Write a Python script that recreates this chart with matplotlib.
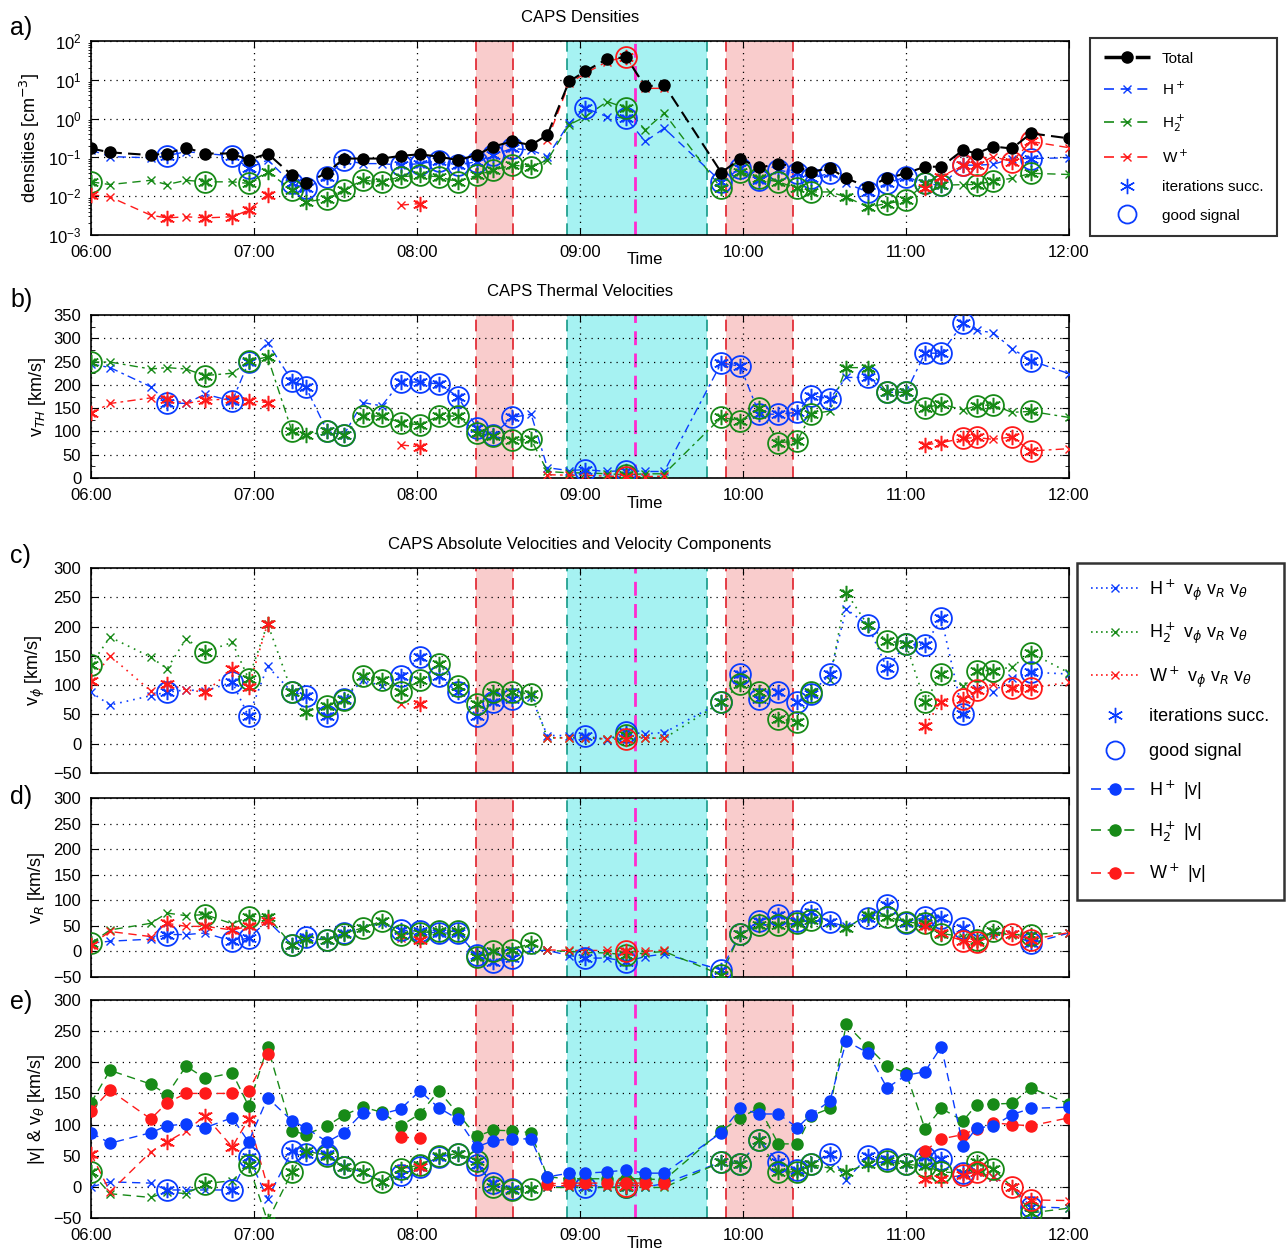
import numpy as np
import matplotlib.pyplot as plt
from matplotlib.lines import Line2D
from matplotlib.ticker import MultipleLocator

plt.rcParams['font.family'] = ['Liberation Sans Narrow', 'Liberation Sans', 'DejaVu Sans']

nan = np.nan

# sample times, minutes after 06:00
t_min = [0, 7, 22, 28, 35, 42, 52, 58, 65, 74, 79, 87, 93, 100, 107, 114, 121, 128, 135, 142,
         148, 155, 162, 168, 176, 182, 190, 197, 204, 211, 232, 239, 246, 253, 260, 265, 272, 278, 286, 293,
         300, 307, 313, 321, 326, 332, 339, 346, 360]
hour_ticks = [0, 60, 120, 180, 240, 300, 360]
hour_labels = ['06:00', '07:00', '08:00', '09:00', '10:00', '11:00', '12:00']

# fit quality per sample: 0 = plain, 1 = iterations succeeded, 2 = good signal
q_h = [0, 0, 0, 2, 0, 0, 2, 2, 0, 2, 2, 2, 2, 0, 0, 2, 2, 2, 2, 2,
       2, 2, 0, 0, 0, 2, 0, 2, 0, 0, 2, 2, 2, 2, 2, 2, 2, 0, 2, 2,
       2, 2, 2, 2, 0, 0, 0, 2, 0]
q_h2 = [2, 0, 0, 0, 0, 2, 0, 2, 1, 2, 1, 2, 2, 2, 2, 2, 2, 2, 2, 2,
        2, 2, 2, 0, 0, 0, 0, 2, 0, 0, 2, 2, 2, 2, 2, 2, 0, 1, 1, 2,
        2, 2, 2, 0, 2, 2, 0, 2, 0]
q_w = [1, 0, 0, 1, 0, 1, 1, 1, 1, 0, 0, 0, 0, 0, 0, 0, 1, 0, 0, 0,
       0, 0, 0, 0, 0, 0, 0, 2, 0, 0, 0, 0, 0, 0, 0, 0, 0, 0, 0, 0,
       0, 1, 1, 2, 2, 0, 2, 2, 0]

# a) densities, log10 [cm^-3]
dens_total_log = [-0.77, -0.87, -0.94, -0.90, -0.75, -0.90, -0.90, -1.07, -0.90, -1.46,
                  -1.67, -1.39, -1.03, -1.03, -1.03, -0.96, -0.92, -0.98, -1.07, -0.94,
                  -0.72, -0.59, -0.68, -0.42, 0.96, 1.22, 1.54, 1.58, 0.83, 0.87,
                  -1.39, -1.04, -1.26, -1.17, -1.24, -1.37, -1.28, -1.54, -1.76, -1.54,
                  -1.41, -1.24, -1.24, -0.81, -0.90, -0.72, -0.77, -0.38, -0.51]
dens_h_log = [-0.81, -0.98, -1.01, -0.96, -0.85, -0.90, -0.96, -1.28, -1.07, -1.67,
              -1.80, -1.50, -1.07, -1.16, -1.16, -1.20, -1.16, -1.09, -1.20, -1.11,
              -0.94, -0.77, -0.81, -0.98, -0.12, 0.27, 0.05, 0.01, -0.59, -0.25,
              -1.63, -1.28, -1.59, -1.33, -1.41, -1.54, -1.41, -1.67, -1.89, -1.67,
              -1.50, -1.67, -1.72, -1.20, -1.20, -1.18, -1.03, -1.03, -1.01]
dens_h2_log = [-1.63, -1.70, -1.59, -1.70, -1.59, -1.63, -1.63, -1.67, -1.37, -1.84,
               -2.15, -2.06, -1.84, -1.59, -1.63, -1.50, -1.46, -1.50, -1.63, -1.46,
               -1.33, -1.20, -1.24, -1.07, -0.16, 0.05, 0.44, 0.27, -0.29, 0.14,
               -1.80, -1.37, -1.54, -1.63, -1.80, -1.89, -1.89, -2.02, -2.28, -2.19,
               -2.10, -1.67, -1.72, -1.70, -1.70, -1.61, -1.54, -1.41, -1.44]
dens_w_log = [-1.96, -2.02, -2.49, -2.56, -2.53, -2.56, -2.53, -2.36, -1.96, nan,
              nan, nan, nan, nan, nan, -2.23, -2.19, nan, nan, nan,
              nan, nan, nan, -0.55, 0.91, 1.17, 1.47, 1.60, 0.78, 0.78,
              nan, nan, nan, nan, nan, nan, nan, nan, nan, nan,
              nan, -1.80, -1.50, -1.20, -1.20, -0.98, -1.11, -0.59, -0.75]

# b) thermal velocities [km/s]
vth_h = [245, 237, 196, 162, 160, 180, 165, 249, 290, 209, 196, 100, 92, 162, 155, 206, 206, 202, 175, 108,
         92, 130, 137, 22, 16, 18, 14, 16, 14, 14, 247, 240, 137, 137, 141, 177, 170, 216, 216, 184,
         184, 268, 268, 332, 317, 312, 278, 252, 224]
vth_h2 = [249, 249, 234, 237, 234, 220, 225, 251, 260, 100, 92, 100, 92, 133, 133, 119, 114, 133, 133, 97,
          90, 81, 83, 14, 11, 11, 9, 7, 9, 9, 130, 123, 150, 76, 79, 137, 144, 237, 237, 184,
          184, 150, 159, 146, 155, 157, 141, 143, 130]
vth_w = [139, 160, 172, 170, 160, 167, 170, 166, 162, nan, nan, nan, nan, nan, nan, 71, 67, nan, nan, nan,
         nan, nan, nan, 7, 6, 6, 4, 3, 3, 4, nan, nan, nan, nan, nan, nan, nan, nan, nan, nan,
         nan, 71, 76, 85, 87, 83, 88, 58, 63]

# c) v_phi [km/s]
vphi_h = [88, 66, 82, 88, 92, 90, 105, 47, 132, 88, 82, 47, 76, 108, 99, 116, 148, 116, 88, 47,
          71, 77, 80, 14, 14, 13, 7, 20, 17, 19, 71, 119, 77, 88, 71, 85, 119, 230, 202, 129,
          170, 168, 214, 51, 94, 88, 112, 122, 119]
vphi_h2 = [135, 182, 148, 128, 179, 157, 173, 111, 205, 88, 55, 65, 74, 116, 108, 88, 108, 136, 99, 68,
           89, 88, 85, 10, 10, 10, 8, 15, 10, 9, 71, 102, 88, 43, 37, 88, 108, 258, 202, 176,
           170, 71, 119, 99, 125, 125, 131, 155, 121]
vphi_w = [107, 150, 90, 102, 92, 88, 127, 97, 205, nan, nan, nan, nan, nan, nan, 68, 68, nan, nan, nan,
          nan, nan, nan, 10, 10, 10, 8, 8, 10, 9, nan, nan, nan, nan, nan, nan, nan, nan, nan, nan,
          nan, 31, 71, 77, 91, 102, 95, 95, 105]

# d) v_R [km/s]
vr_h = [16, 20, 24, 33, 33, 36, 20, 26, 60, 13, 29, 23, 36, 46, 55, 42, 39, 36, 36, -7,
        -20, -13, 2, 2, -8, -13, -13, -20, -10, -5, -36, 35, 59, 72, 59, 78, 57, 49, 65, 91,
        55, 68, 65, 46, 29, 36, 35, 16, 36]
vr_h2 = [16, 42, 55, 75, 70, 72, 54, 68, 68, 13, 24, 23, 35, 46, 59, 33, 37, 39, 39, -10,
         0, 3, 16, 2, 0, -2, -3, -7, -3, 0, -46, 35, 52, 52, 55, 62, 55, 46, 72, 68,
         57, 55, 35, 29, 23, 39, 33, 33, 37]
vr_w = [13, 39, 29, 55, 49, 49, 42, 49, 59, nan, nan, nan, nan, nan, nan, 26, 23, nan, nan, nan,
        nan, nan, nan, 3, 2, 2, 2, 0, 0, 3, nan, nan, nan, nan, nan, nan, nan, nan, nan, nan,
        nan, 49, 36, 20, 18, 30, 35, 23, 37]

# e) |v| and v_theta [km/s]
vabs_h = [87, 70, 87, 98, 101, 95, 111, 72, 143, 106, 95, 72, 87, 119, 117, 125, 154, 127, 109, 64,
          74, 77, 77, 16, 22, 22, 24, 27, 22, 22, 87, 126, 117, 117, 95, 116, 138, 234, 215, 159,
          179, 185, 225, 66, 95, 97, 116, 126, 128]
vabs_h2 = [135, 187, 165, 148, 194, 174, 183, 130, 225, 90, 84, 98, 115, 128, 120, 98, 117, 154, 118, 81,
           91, 90, 87, 16, 13, 13, 13, 13, 13, 11, 90, 111, 127, 69, 69, 114, 126, 261, 225, 194,
           183, 93, 126, 106, 132, 133, 134, 159, 133]
vabs_w = [122, 155, 109, 135, 150, 150, 150, 154, 213, nan, nan, nan, nan, nan, nan, 80, 78, nan, nan, nan,
          nan, nan, nan, 5, 6, 6, 6, 6, 6, 6, nan, nan, nan, nan, nan, nan, nan, nan, nan, nan,
          nan, 58, 77, 84, 93, 103, 100, 98, 111]
vth_h_theta = [0, 8, 6, -5, -5, -5, -5, 48, -19, 58, 53, 53, 32, 24, 8, 19, 32, 48, 53, 35,
               6, -3, -3, 0, 0, 0, 0, -1, 0, 5, 40, 37, 75, 40, 27, 37, 53, 11, 49, 45,
               37, 48, 45, 22, 24, 16, 0, -32, -34]
vth_h2_theta = [24, -11, -17, -8, -11, 5, 10, 35, -55, 24, 58, 50, 32, 24, 8, 29, 35, 50, 53, 42,
                0, -5, -3, -1, -1, -1, -1, -1, -1, -1, 40, 37, 75, 24, 24, 36, 30, 24, 37, 41,
                36, 34, 24, 22, 40, 29, 0, -42, -34]
vth_w_theta = [53, -8, 56, 72, 90, 114, 64, 109, 0, nan, nan, nan, nan, nan, nan, 30, 32, nan, nan, nan,
               nan, nan, nan, 2, 2, 2, 2, 2, 2, 2, nan, nan, nan, nan, nan, nan, nan, nan, nan, nan,
               nan, 13, 13, 19, 24, 16, 0, -21, -22]

# event intervals, minutes after 06:00
pink_spans = [(141.7, 155.3), (233.6, 258.4)]
cyan_span = (175.1, 226.7)
magenta_t = 200.3

BLUE, GREEN, RED = '#0a3cff', '#178a17', '#ff1a1a'
PINK, CYAN = '#f9cccc', '#a6f2f2'

t = np.array(t_min, float)

W, H = 1286, 1252
fig = plt.figure(figsize=(W / 100, H / 100), dpi=100)


def box(l, top, r, b):
    return [l / W, 1 - b / H, (r - l) / W, (b - top) / H]


def frame(ax, xlabels=True):
    ax.set_xlim(0, 360)
    ax.set_xticks(hour_ticks)
    ax.set_xticklabels(hour_labels if xlabels else [])
    ax.tick_params(direction='in', top=True, right=True, labelsize=12, length=5, pad=7)
    ax.grid(True, ls=(0, (1, 4)), color='k', lw=0.9)
    for s in ax.spines.values():
        s.set_linewidth(1.2)
    for lo, hi in pink_spans:
        ax.axvspan(lo, hi, color=PINK, lw=0, zorder=0)
        for xv in (lo, hi):
            ax.axvline(xv, color='#e0202a', lw=1.2, dashes=(7, 4), zorder=1)
    ax.axvspan(*cyan_span, color=CYAN, lw=0, zorder=0)
    for xv in cyan_span:
        ax.axvline(xv, color='#149a88', lw=1.2, dashes=(7, 4), zorder=1)
    ax.axvline(magenta_t, color='#ff2ad0', lw=2, dashes=(5, 3), zorder=1)


def series(ax, y, color, q, dashes, line_dotted=False):
    y = np.asarray(y, float)
    q = np.asarray(q)
    if line_dotted:
        ax.plot(t, y, color=color, lw=1.2, ls=(0, (1, 3)), marker='x', ms=6, mew=1, zorder=3)
    else:
        ax.plot(t, y, color=color, lw=1, dashes=dashes, marker='x', ms=6, mew=1, zorder=3)
    m1 = q >= 1
    ax.plot(t[m1], y[m1], ls='none', marker=(6, 2, 0), ms=11, mew=1.1, color=color, zorder=4)
    m2 = q == 2
    ax.plot(t[m2], y[m2], ls='none', marker='o', ms=15, mfc='none', mec=color, mew=1.3, zorder=4)


# a) densities
ax_a = fig.add_axes(box(91, 41, 1069, 235))
frame(ax_a)
ax_a.set_yscale('log')
ax_a.set_ylim(1e-3, 1e2)
ax_a.plot(t, 10 ** np.array(dens_total_log), color='k', lw=1.5, dashes=(6, 3), marker='o', ms=8, zorder=5)
for y, c, q in [(dens_h_log, BLUE, q_h), (dens_h2_log, GREEN, q_h2), (dens_w_log, RED, q_w)]:
    series(ax_a, 10 ** np.array(y, float), c, q, (6, 4))
ax_a.set_ylabel('densities [cm$^{-3}$]', fontsize=13)
ax_a.set_title('CAPS Densities', fontsize=12, pad=14)

# b) thermal velocities
ax_b = fig.add_axes(box(91, 315, 1069, 478))
frame(ax_b)
ax_b.set_ylim(0, 350)
ax_b.yaxis.set_major_locator(MultipleLocator(50))
ax_b.yaxis.set_minor_locator(MultipleLocator(25))
ax_b.tick_params(which='minor', direction='in', right=True, length=3)
for y, c, q in [(vth_h, BLUE, q_h), (vth_h2, GREEN, q_h2), (vth_w, RED, q_w)]:
    series(ax_b, y, c, q, (6, 3, 2, 3))
ax_b.set_ylabel('v$_{TH}$ [km/s]', fontsize=13)
ax_b.set_title('CAPS Thermal Velocities', fontsize=12, pad=14)

# c) v_phi
ax_c = fig.add_axes(box(91, 568, 1069, 773))
frame(ax_c, xlabels=False)
ax_c.set_ylim(-50, 300)
ax_c.yaxis.set_major_locator(MultipleLocator(50))
for y, c, q in [(vphi_h, BLUE, q_h), (vphi_h2, GREEN, q_h2), (vphi_w, RED, q_w)]:
    series(ax_c, y, c, q, None, line_dotted=True)
ax_c.set_ylabel(r'v$_\phi$ [km/s]', fontsize=13)
ax_c.set_title('CAPS Absolute Velocities and Velocity Components', fontsize=12, pad=14)

# d) v_R
ax_d = fig.add_axes(box(91, 798, 1069, 977))
frame(ax_d, xlabels=False)
ax_d.set_ylim(-50, 300)
ax_d.yaxis.set_major_locator(MultipleLocator(50))
for y, c, q in [(vr_h, BLUE, q_h), (vr_h2, GREEN, q_h2), (vr_w, RED, q_w)]:
    series(ax_d, y, c, q, (6, 4))
ax_d.set_ylabel('v$_R$ [km/s]', fontsize=13)

# e) |v| and v_theta
ax_e = fig.add_axes(box(91, 1000, 1069, 1218))
frame(ax_e)
ax_e.set_ylim(-50, 300)
ax_e.yaxis.set_major_locator(MultipleLocator(50))
for y, c, q in [(vth_h_theta, BLUE, q_h), (vth_h2_theta, GREEN, q_h2), (vth_w_theta, RED, q_w)]:
    series(ax_e, y, c, q, (6, 4))
for y, c in [(vabs_h2, GREEN), (vabs_w, RED), (vabs_h, BLUE)]:
    ax_e.plot(t, y, color=c, lw=1, dashes=(6, 4), marker='o', ms=8, zorder=5)
ax_e.set_ylabel(r'|v| & v$_\theta$ [km/s]', fontsize=13)

for ypix in (260, 503, 1243):
    fig.text(645 / W, 1 - ypix / H, 'Time', fontsize=12, ha='center', va='center')

for letter, ypix in [('a)', 28), ('b)', 300), ('c)', 556), ('d)', 797), ('e)', 1002)]:
    fig.text(10 / W, 1 - ypix / H, letter, fontsize=18, va='center')


def lh(color, marker, ls='--', **kw):
    return Line2D([], [], color=color, marker=marker, ls=ls, **kw)


leg_a = fig.legend(
    [lh('k', 'o', lw=2.5, ms=8, dashes=(6, 3)),
     lh(BLUE, 'x', lw=1.2, ms=6, dashes=(6, 4)),
     lh(GREEN, 'x', lw=1.2, ms=6, dashes=(6, 4)),
     lh(RED, 'x', lw=1.2, ms=6, dashes=(6, 4)),
     lh(BLUE, (6, 2, 0), ls='none', ms=11),
     lh(BLUE, 'o', ls='none', ms=13, mfc='none', mew=1.3)],
    ['Total', 'H$^+$', 'H$_2^+$', 'W$^+$', 'iterations succ.', 'good signal'],
    loc='upper left', bbox_to_anchor=(1090 / W, 1 - 38 / H), fontsize=11,
    frameon=True, fancybox=False, edgecolor='k', labelspacing=0.95, handlelength=3,
    borderpad=0.9, borderaxespad=0)
leg_a.get_frame().set_linewidth(1.5)

leg_c = fig.legend(
    [lh(BLUE, 'x', ls=(0, (1, 2)), lw=1.2, ms=6),
     lh(GREEN, 'x', ls=(0, (1, 2)), lw=1.2, ms=6),
     lh(RED, 'x', ls=(0, (1, 2)), lw=1.2, ms=6),
     lh(BLUE, (6, 2, 0), ls='none', ms=11),
     lh(BLUE, 'o', ls='none', ms=13, mfc='none', mew=1.3),
     lh(BLUE, 'o', lw=1.2, ms=8, dashes=(6, 4)),
     lh(GREEN, 'o', lw=1.2, ms=8, dashes=(6, 4)),
     lh(RED, 'o', lw=1.2, ms=8, dashes=(6, 4))],
    [r'H$^+$ v$_\phi$ v$_R$ v$_\theta$', r'H$_2^+$ v$_\phi$ v$_R$ v$_\theta$',
     r'W$^+$ v$_\phi$ v$_R$ v$_\theta$', 'iterations succ.', 'good signal',
     'H$^+$ |v|', 'H$_2^+$ |v|', 'W$^+$ |v|'],
    loc='upper left', bbox_to_anchor=(1077 / W, 1 - 563 / H), fontsize=13,
    frameon=True, fancybox=False, edgecolor='k', labelspacing=1.0, handlelength=2.6,
    handletextpad=0.6, borderpad=0.8, borderaxespad=0)
leg_c.get_frame().set_linewidth(1.8)

fig.savefig('out.png', dpi=100)
